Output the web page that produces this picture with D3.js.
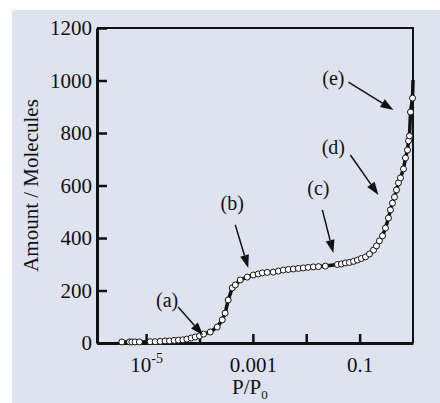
<!DOCTYPE html>
<html>
<head>
<meta charset="utf-8">
<script src="https://cdn.jsdelivr.net/npm/d3@7"></script>
<style>
  body { margin: 0; background: #fff; }
  svg { display: block; }
  text { font-family: "Liberation Serif", "Times New Roman", serif; fill: #111; }
</style>
</head>
<body>
<div class="canvas"></div>
<script>
const pressure = [
    3.5e-6, 4.9e-6, 5.4e-6, 6.2e-6, 7.5e-6, 1.19e-5, 1.48e-5, 1.83e-5, 2.27e-5, 2.74e-5,
    3.35e-5, 4.04e-5, 4.89e-5, 5.8e-5, 6.98e-5, 8.3e-5, 1.0e-4, 1.19e-4, 1.59e-4, 2.15e-4,
    2.67e-4, 3.03e-4, 3.45e-4, 4.11e-4, 4.68e-4, 5.81e-4, 7.85e-4, 1.02e-3, 1.26e-3, 1.5e-3,
    1.86e-3, 2.41e-3, 3.0e-3, 3.72e-3, 4.61e-3, 5.73e-3, 7.11e-3, 8.83e-3, 1.09e-2, 1.36e-2,
    1.69e-2, 2.28e-2, 3.83e-2, 4.55e-2, 5.42e-2, 6.44e-2, 7.66e-2, 9.1e-2, 0.108, 0.129,
    0.153, 0.182, 0.207, 0.235, 0.268, 0.305, 0.347, 0.378, 0.412, 0.45,
    0.49, 0.535, 0.583, 0.663, 0.723, 0.789, 0.824, 0.86, 0.898, 0.98
];
const amount = [
    4, 4, 4, 4, 4, 5, 5, 6, 8, 8,
    10, 11, 12, 15, 19, 23, 27, 34, 42, 61,
    88, 114, 164, 210, 221, 240, 251, 259, 263, 267,
    269, 270, 274, 278, 280, 282, 284, 286, 288, 290,
    291, 293, 299, 301, 305, 307, 311, 316, 322, 328,
    339, 354, 370, 389, 408, 438, 476, 507, 533, 556,
    583, 610, 629, 663, 705, 735, 770, 789, 880, 933
];
// the drawn line runs on past the last marker
const lineEnd = { p: 1.0, v: 1002 };

const yTicks = [0, 200, 400, 600, 800, 1000, 1200];
const xTicks = [1e-5, 1e-4, 1e-3, 1e-2, 1e-1];
const xLabels = { 1e-5: '10^-5', 1e-3: '0.001', 1e-1: '0.1' };

// annotation labels: text spot, arrow start and arrow tip in data units
const labels = ['(a)', '(b)', '(c)', '(d)', '(e)'];
const labelAt = [[2.48e-5, 164], [4.1e-4, 533], [0.0169, 591], [0.0322, 747], [0.0322, 1010]];
const arrowFrom = [[3.98e-5, 137], [4.68e-4, 450], [0.020, 507], [0.0671, 716], [0.0617, 994]];
const arrowTo = [[1.17e-4, 30], [8.2e-4, 286], [0.0322, 343], [0.225, 564], [0.43, 888]];

const dims = { width: 440, height: 403 };
const plot = { left: 97, right: 413, top: 28, bottom: 343 };

const svg = d3.select('.canvas')
    .append('svg')
    .attr('width', dims.width)
    .attr('height', dims.height);

// tinted page behind the figure
svg.append('rect')
    .attr('x', 12).attr('y', 10)
    .attr('width', dims.width - 12).attr('height', dims.height - 10)
    .attr('fill', '#dfe3f0');

const x = d3.scaleLog()
    .domain([Math.pow(10, -5.92), 1])
    .range([plot.left, plot.right]);

const y = d3.scaleLinear()
    .domain([0, 1200])
    .range([plot.bottom, plot.top]);

// frame (top + right)
svg.append('path')
    .attr('d', `M${plot.left},${plot.top}H${plot.right}V${plot.bottom}`)
    .attr('fill', 'none')
    .attr('stroke', '#111')
    .attr('stroke-width', 2);

const yAxis = d3.axisLeft(y)
    .tickValues(yTicks)
    .tickFormat(d3.format('d'))
    .tickSizeInner(-10)
    .tickSizeOuter(0)
    .tickPadding(5);

const gy = svg.append('g')
    .attr('transform', `translate(${plot.left},0)`)
    .call(yAxis);
gy.select('.domain').attr('stroke', '#111').attr('stroke-width', 3);
gy.selectAll('.tick line').attr('stroke', '#111').attr('stroke-width', 2.5);
gy.selectAll('.tick text')
    .attr('font-size', 21)
    .attr('font-family', '"Liberation Serif", serif')
    .attr('fill', '#111');

const xAxis = d3.axisBottom(x)
    .tickValues(xTicks)
    .tickSizeInner(-9)
    .tickSizeOuter(0)
    .tickFormat(() => '');

const gx = svg.append('g')
    .attr('transform', `translate(0,${plot.bottom})`)
    .call(xAxis);
gx.select('.domain').attr('stroke', '#111').attr('stroke-width', 3);
gx.selectAll('.tick line').attr('stroke', '#111').attr('stroke-width', 2.5);

gx.selectAll('.tick').each(function(d) {
    const lab = xLabels[d];
    if (!lab) return;
    const t = d3.select(this).select('text')
        .attr('y', 29).attr('dy', 0)
        .attr('font-size', 21)
        .attr('font-family', '"Liberation Serif", serif')
        .attr('fill', '#111')
        .text(null);
    if (lab.includes('^')) {
        const [base, exp] = lab.split('^');
        t.append('tspan').text(base);
        t.append('tspan').attr('dy', -9).attr('font-size', 14).text(exp);
    } else {
        t.text(lab);
    }
});

// axis titles
svg.append('text')
    .attr('transform', `translate(38,${(plot.top + plot.bottom) / 2}) rotate(-90)`)
    .attr('text-anchor', 'middle')
    .attr('font-size', 21)
    .text('Amount / Molecules');

const xt = svg.append('text')
    .attr('x', 232)
    .attr('y', 394)
    .attr('font-size', 21);
xt.append('tspan').text('P/P');
xt.append('tspan').attr('dy', 5).attr('font-size', 13).text('0');

// isotherm
const points = pressure.map((p, i) => ({ p: p, v: amount[i] }));

const line = d3.line()
    .x(d => x(d.p))
    .y(d => y(d.v));

svg.append('path')
    .datum(points.concat([lineEnd]))
    .attr('d', line)
    .attr('fill', 'none')
    .attr('stroke', '#111')
    .attr('stroke-width', 3.5)
    .attr('stroke-linejoin', 'round');

svg.append('g')
    .selectAll('circle')
    .data(points)
    .enter()
    .append('circle')
        .attr('cx', d => x(d.p))
        .attr('cy', d => y(d.v))
        .attr('r', 3)
        .attr('fill', '#fff')
        .attr('stroke', '#111')
        .attr('stroke-width', 1);

// annotations
const notes = svg.append('g');
labels.forEach((lab, i) => {
    const x0 = x(arrowFrom[i][0]), y0 = y(arrowFrom[i][1]);
    const x1 = x(arrowTo[i][0]), y1 = y(arrowTo[i][1]);
    const ang = Math.atan2(y1 - y0, x1 - x0);
    const len = 13, half = 4.5;
    const bx = x1 - len * Math.cos(ang), by = y1 - len * Math.sin(ang);

    notes.append('line')
        .attr('x1', x0).attr('y1', y0)
        .attr('x2', bx).attr('y2', by)
        .attr('stroke', '#111')
        .attr('stroke-width', 1.5);

    notes.append('path')
        .attr('d', `M${x1},${y1}L${bx - half * Math.sin(ang)},${by + half * Math.cos(ang)}L${bx + half * Math.sin(ang)},${by - half * Math.cos(ang)}Z`)
        .attr('fill', '#111');

    notes.append('text')
        .attr('x', x(labelAt[i][0]))
        .attr('y', y(labelAt[i][1]))
        .attr('dy', '0.35em')
        .attr('text-anchor', 'middle')
        .attr('font-size', 20)
        .text(lab);
});
</script>
</body>
</html>
